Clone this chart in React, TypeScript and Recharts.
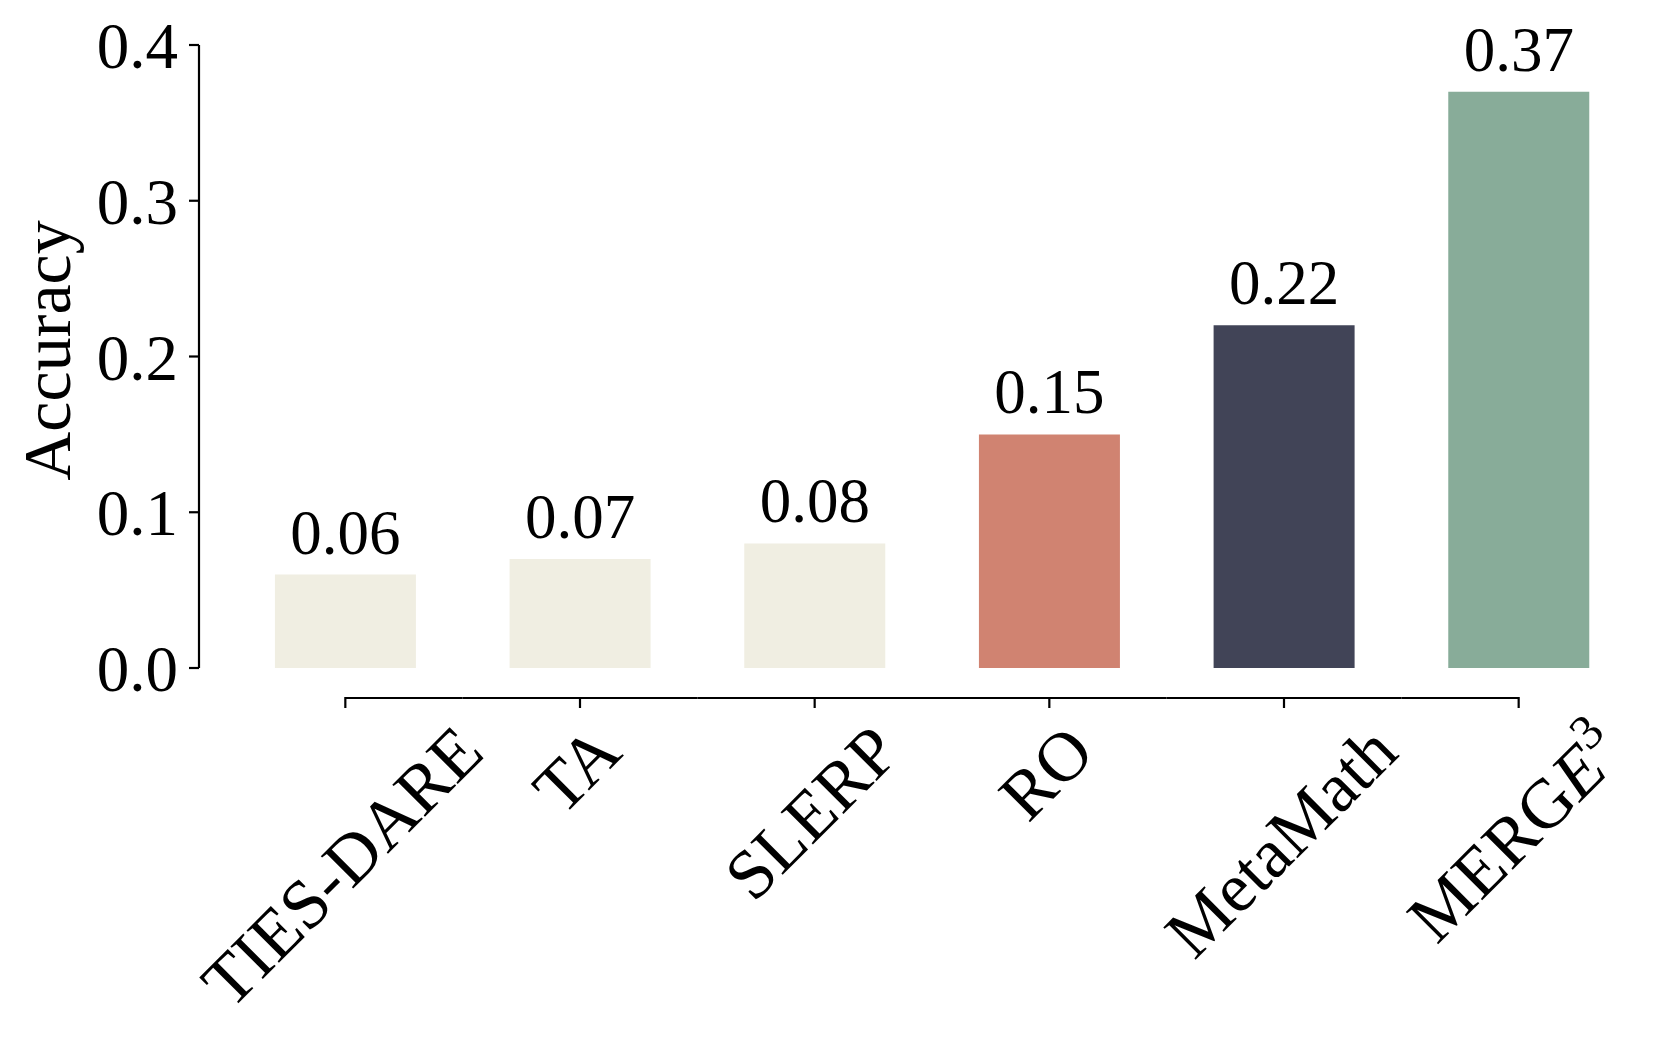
import React from 'react';
import { BarChart, Bar, XAxis, YAxis, Cell, LabelList } from 'recharts';

const categories = ['TIES-DARE', 'TA', 'SLERP', 'RO', 'MetaMath', 'MERGE3'];
const accuracy = [0.06, 0.07, 0.08, 0.15, 0.22, 0.37];
const barColors = ['#F0EEE2', '#F0EEE2', '#F0EEE2', '#D08371', '#414457', '#88AC99'];
const yTicks = [0, 0.1, 0.2, 0.3, 0.4];

const data = categories.map((name, i) => ({ name, accuracy: accuracy[i] }));

const W = 1661;
const H = 1038;
const MARGIN = { top: 45, right: 24, bottom: 0, left: 0 };
const Y_AXIS_W = 199;
const PAD_L = 29;
const PAD_R = 1;
const X_AXIS_H = 370;
const STEP = (W - MARGIN.right - MARGIN.left - Y_AXIS_W - PAD_L - PAD_R) / categories.length;
const FONT = '"Liberation Serif", "Times New Roman", serif';
const AXIS_OFFSET = 30;
const TICK_LEN = 10;
const LABEL_TOP = 54;
const XFS = 70;

let ctx: CanvasRenderingContext2D | null = null;
function measure(text: string, size: number, italic = false): number {
  if (!ctx) ctx = document.createElement('canvas').getContext('2d');
  if (!ctx) return text.length * size * 0.55;
  ctx.font = `${italic ? 'italic ' : ''}${size}px "Liberation Serif"`;
  return ctx.measureText(text).width;
}

function XTick(props: any) {
  const { x, y, payload, index } = props;
  const n = categories.length;
  const ay = y + AXIS_OFFSET;
  const x1 = index === 0 ? x : x - STEP / 2;
  const x2 = index === n - 1 ? x : x + STEP / 2;
  const label = String(payload.value);
  let w: number;
  let content: React.ReactNode;
  if (label === 'MERGE3') {
    w = measure('MERG', XFS) + measure('E', XFS, true) + measure('3', XFS * 0.7);
    content = (
      <>
        MERG<tspan fontStyle="italic">E</tspan>
        <tspan fontSize={XFS * 0.7} dy={-XFS * 0.42}>3</tspan>
      </>
    );
  } else {
    w = measure(label, XFS);
    content = label;
  }
  const h = XFS * 0.68;
  const cx = x - 3;
  const cy = y + LABEL_TOP + (w + h) / (2 * Math.SQRT2);
  return (
    <g>
      <line x1={x1} x2={x2} y1={ay} y2={ay} stroke="#000" strokeWidth={2.2} />
      <line x1={x} x2={x} y1={ay - 1} y2={ay + TICK_LEN} stroke="#000" strokeWidth={2.2} />
      <text
        x={cx}
        y={cy}
        dy={XFS * 0.33}
        textAnchor="middle"
        fontFamily={FONT}
        fontSize={XFS}
        fill="#000"
        transform={`rotate(-45 ${cx} ${cy})`}
      >
        {content}
      </text>
    </g>
  );
}

function YLabel(props: any) {
  const vb = props.viewBox || { x: 0, y: MARGIN.top, width: Y_AXIS_W, height: H - MARGIN.top - X_AXIS_H };
  const x = vb.x + 70;
  const y = vb.y + vb.height / 2 - 6;
  return (
    <text
      x={x}
      y={y}
      textAnchor="middle"
      fontFamily={FONT}
      fontSize={68}
      fill="#000"
      transform={`rotate(-90 ${x} ${y})`}
    >
      Accuracy
    </text>
  );
}

export default function App() {
  return (
    <div style={{ position: 'absolute', left: 0, top: 0, background: '#fff' }}>
      <BarChart width={W} height={H} data={data} margin={MARGIN} barCategoryGap="20%">
        <XAxis
          dataKey="name"
          type="category"
          height={X_AXIS_H}
          padding={{ left: PAD_L, right: PAD_R }}
          tickSize={0}
          tickMargin={0}
          tickLine={false}
          axisLine={false}
          interval={0}
          tick={<XTick />}
        />
        <YAxis
          type="number"
          domain={[0, 0.4]}
          ticks={yTicks}
          width={Y_AXIS_W}
          tickSize={10}
          tickMargin={11}
          interval={0}
          axisLine={{ stroke: '#000', strokeWidth: 2.2 }}
          tickLine={{ stroke: '#000', strokeWidth: 2.2 }}
          tick={{ fill: '#000', fontSize: 65, fontFamily: FONT }}
          tickFormatter={(v: number) => v.toFixed(1)}
          label={(p: any) => <YLabel {...p} />}
        />
        <Bar dataKey="accuracy" isAnimationActive={false}>
          {data.map((d, i) => (
            <Cell key={d.name} fill={barColors[i]} />
          ))}
          <LabelList
            dataKey="accuracy"
            position="top"
            offset={21}
            formatter={(v: any) => Number(v).toFixed(2)}
            fill="#000"
            fontSize={63}
            fontFamily={FONT}
          />
        </Bar>
      </BarChart>
    </div>
  );
}
